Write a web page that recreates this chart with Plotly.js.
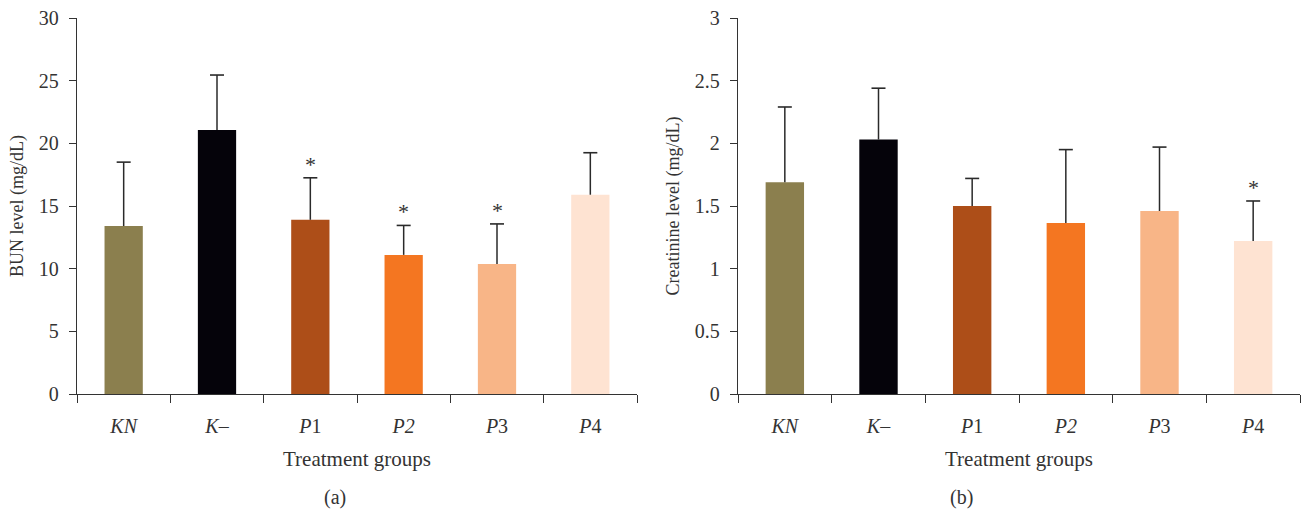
<!DOCTYPE html>
<html><head><meta charset="utf-8">
<script src="https://cdn.plot.ly/plotly-3.0.1.min.js"></script>
<style>html,body{margin:0;padding:0;background:#fff;}#chart{width:1302px;height:511px;}</style>
</head><body><div id="chart"></div>
<script>
const categories = ['KN', 'K-', 'P1', 'P2', 'P3', 'P4'];
const tickLabels = ['<i>KN</i>', '<i>K</i>–', '<i>P</i>1', '<i>P2</i>', '<i>P</i>3', '<i>P</i>4'];
const colors = ['#8B7F4E', '#05030A', '#AD4E18', '#F47621', '#F8B587', '#FEE3D2'];
const bunMean = [13.4, 21.07, 13.9, 11.1, 10.37, 15.9];
const bunSD = [5.1, 4.38, 3.35, 2.35, 3.2, 3.35];
const bunSig = ['', '', '*', '*', '*', ''];
const creMean = [1.69, 2.03, 1.5, 1.365, 1.46, 1.22];
const creSD = [0.6, 0.41, 0.22, 0.585, 0.51, 0.32];
const creSig = ['', '', '', '', '', '*'];

const FONT = 'Liberation Serif, Times New Roman, serif';
const TXT = '#333';
const ERR = '#2a2a2a';

function barTrace(means, xa, ya) {
  return {
    type: 'bar', x: categories, y: means, xaxis: xa, yaxis: ya,
    marker: {color: colors, line: {width: 0}},
    hoverinfo: 'none', showlegend: false
  };
}
// upper-only error bars: stem line + cap marker
function stemTrace(means, sds, xa, ya) {
  const xs = [], ys = [];
  categories.forEach((c, i) => { xs.push(c, c, null); ys.push(means[i], means[i] + sds[i], null); });
  return {type: 'scatter', mode: 'lines', x: xs, y: ys, xaxis: xa, yaxis: ya,
    line: {color: ERR, width: 1.5}, connectgaps: false, hoverinfo: 'none', showlegend: false, cliponaxis: false};
}
function capTrace(means, sds, xa, ya) {
  return {type: 'scatter', mode: 'markers', x: categories, y: means.map((m, i) => m + sds[i]),
    xaxis: xa, yaxis: ya, marker: {symbol: 'line-ew-open', size: 10, color: ERR, line: {color: ERR, width: 1.6}},
    hoverinfo: 'none', showlegend: false, cliponaxis: false};
}

const annotations = [];
function addStars(means, sds, sig, xr, yr) {
  sig.forEach((s, i) => {
    if (s) annotations.push({x: categories[i], y: means[i] + sds[i], xref: xr, yref: yr,
      text: s, showarrow: false, yanchor: 'bottom', yshift: -1,
      font: {family: FONT, size: 22, color: TXT}});
  });
}
addStars(bunMean, bunSD, bunSig, 'x', 'y');
addStars(creMean, creSD, creSig, 'x2', 'y2');
annotations.push({x: 322/1302, y: -0.275, xref: 'paper', yref: 'paper', text: '(a)', showarrow: false,
  yanchor: 'middle', font: {family: FONT, size: 20, color: TXT}});
annotations.push({x: 975/1302, y: -0.275, xref: 'paper', yref: 'paper', text: '(b)', showarrow: false,
  yanchor: 'middle', font: {family: FONT, size: 20, color: TXT}});

function xAxis(domain, anchor) {
  return {domain: domain, anchor: anchor, type: 'category', tickvals: categories, ticktext: tickLabels,
    tickson: 'boundaries', ticks: 'outside', ticklen: 8, tickcolor: '#333', tickwidth: 1,
    ticklabelstandoff: 14,
    showline: true, linecolor: '#333', linewidth: 1.2, showgrid: false, zeroline: false,
    tickfont: {family: FONT, size: 20, color: TXT},
    title: {text: 'Treatment groups', font: {family: FONT, size: 21, color: TXT}, standoff: 15}};
}
function yAxis(range, dtick, title, anchor) {
  return {range: range, dtick: dtick, anchor: anchor, ticks: 'outside', ticklen: 7, tickcolor: '#333',
    ticklabelstandoff: 6,
    showline: true, linecolor: '#333', linewidth: 1.2, showgrid: false, zeroline: false,
    tickfont: {family: FONT, size: 20, color: TXT},
    title: {text: title, font: {family: FONT, size: 18, color: TXT}, standoff: 10}};
}

const layout = {
  width: 1302, height: 511,
  margin: {l: 0, r: 0, t: 18, b: 117},
  paper_bgcolor: '#fff', plot_bgcolor: '#fff',
  bargap: 0.59,
  xaxis: xAxis([77/1302, 637/1302], 'y'),
  yaxis: yAxis([0, 30], 5, 'BUN level (mg/dL)', 'x'),
  xaxis2: xAxis([738/1302, 1300/1302], 'y2'),
  yaxis2: yAxis([0, 3], 0.5, 'Creatinine level (mg/dL)', 'x2'),
  annotations: annotations
};

Plotly.newPlot('chart', [
  barTrace(bunMean, 'x', 'y'), barTrace(creMean, 'x2', 'y2'),
  stemTrace(bunMean, bunSD, 'x', 'y'), stemTrace(creMean, creSD, 'x2', 'y2'),
  capTrace(bunMean, bunSD, 'x', 'y'), capTrace(creMean, creSD, 'x2', 'y2')
], layout, {displayModeBar: false, staticPlot: true});
</script></body></html>
